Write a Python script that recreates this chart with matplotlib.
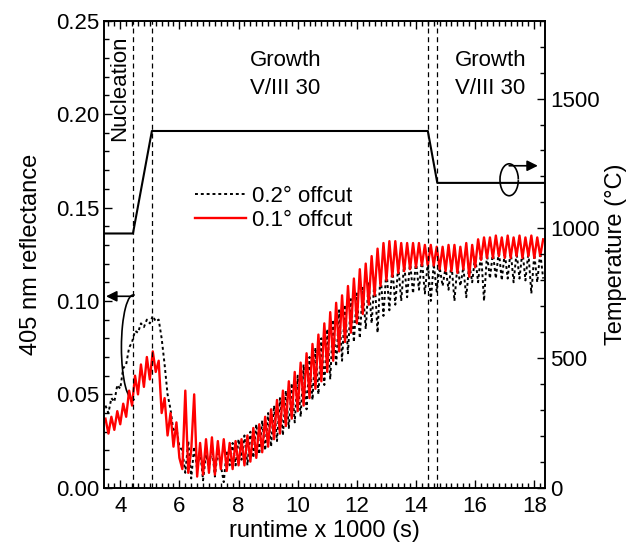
import numpy as np
import matplotlib
matplotlib.use("Agg")
import matplotlib.pyplot as plt
from matplotlib.patches import Arc
from matplotlib.ticker import MultipleLocator

plt.rcParams['font.family'] = ['Liberation Sans', 'DejaVu Sans']

# ---- data ----
t_start, t_step = 3.5, 0.1
refl_02 = [0.044, 0.040, 0.048, 0.046, 0.055, 0.053, 0.064, 0.066, 0.075, 0.078,
           0.084, 0.083, 0.088, 0.086, 0.090, 0.088, 0.092, 0.089, 0.090, 0.080,
           0.066, 0.050, 0.042, 0.030, 0.032, 0.022, 0.020, 0.008, 0.025, 0.005,
           0.022, 0.010, 0.020, 0.004, 0.018, 0.010, 0.022, 0.006, 0.020, 0.012,
           0.003, 0.020, 0.012, 0.024, 0.012, 0.026, 0.015, 0.028, 0.012, 0.030,
           0.016, 0.034, 0.018, 0.036, 0.020, 0.040, 0.022, 0.044, 0.025, 0.048,
           0.028, 0.052, 0.032, 0.056, 0.035, 0.060, 0.038, 0.066, 0.042, 0.070,
           0.047, 0.075, 0.050, 0.080, 0.055, 0.085, 0.058, 0.090, 0.065, 0.095,
           0.068, 0.098, 0.072, 0.101, 0.078, 0.104, 0.080, 0.107, 0.085, 0.110,
           0.088, 0.112, 0.083, 0.115, 0.092, 0.117, 0.095, 0.118, 0.098, 0.119,
           0.100, 0.120, 0.102, 0.121, 0.104, 0.121, 0.106, 0.122, 0.104, 0.121,
           0.100, 0.120, 0.105, 0.118, 0.108, 0.118, 0.106, 0.120, 0.100, 0.119,
           0.108, 0.118, 0.102, 0.120, 0.110, 0.124, 0.110, 0.126, 0.100, 0.125,
           0.112, 0.126, 0.112, 0.127, 0.111, 0.126, 0.112, 0.127, 0.110, 0.126,
           0.112, 0.127, 0.111, 0.126, 0.104, 0.125, 0.110, 0.126, 0.112]
refl_01 = [0.037, 0.029, 0.038, 0.031, 0.041, 0.034, 0.045, 0.038, 0.052, 0.044,
           0.060, 0.050, 0.066, 0.054, 0.070, 0.058, 0.073, 0.062, 0.068, 0.040,
           0.048, 0.028, 0.040, 0.022, 0.035, 0.016, 0.010, 0.052, 0.008, 0.020,
           0.050, 0.006, 0.024, 0.007, 0.026, 0.008, 0.027, 0.007, 0.025, 0.010,
           0.026, 0.009, 0.024, 0.010, 0.025, 0.012, 0.026, 0.012, 0.028, 0.014,
           0.032, 0.016, 0.034, 0.019, 0.038, 0.022, 0.042, 0.026, 0.047, 0.029,
           0.052, 0.033, 0.057, 0.037, 0.062, 0.041, 0.067, 0.044, 0.072, 0.048,
           0.077, 0.053, 0.082, 0.057, 0.088, 0.062, 0.094, 0.068, 0.099, 0.073,
           0.103, 0.078, 0.108, 0.083, 0.112, 0.088, 0.117, 0.093, 0.120, 0.098,
           0.124, 0.103, 0.128, 0.108, 0.131, 0.111, 0.132, 0.113, 0.132, 0.115,
           0.131, 0.116, 0.131, 0.117, 0.131, 0.118, 0.131, 0.119, 0.130, 0.119,
           0.130, 0.119, 0.129, 0.117, 0.129, 0.116, 0.130, 0.116, 0.130, 0.115,
           0.129, 0.117, 0.131, 0.113, 0.130, 0.118, 0.133, 0.122, 0.134, 0.123,
           0.134, 0.123, 0.135, 0.124, 0.134, 0.123, 0.135, 0.123, 0.134, 0.124,
           0.135, 0.123, 0.134, 0.124, 0.135, 0.123, 0.134, 0.124, 0.133]
temp_time = [3.45, 4.43, 5.07, 14.40, 14.72, 18.4]
temp_val = [980, 980, 1375, 1375, 1175, 1175]
step_lines = [4.43, 5.07, 14.40, 14.72]

t02 = t_start + t_step * np.arange(len(refl_02))
t01 = t_start + t_step * np.arange(len(refl_01))

fig = plt.figure(figsize=(6.34, 5.45), dpi=100)
ax = fig.add_axes([0.164, 0.105, 0.696, 0.857])
ax2 = ax.twinx()

ax.plot(t02, refl_02, color='black', ls=(0, (1.5, 1.5)), lw=1.4, label='0.2° offcut')
ax.plot(t01, refl_01, color='red', ls='-', lw=1.7, label='0.1° offcut')

for xv in step_lines:
    ax.axvline(xv, color='black', ls=(0, (4, 3)), lw=0.9)

ax2.plot(temp_time, temp_val, color='black', lw=1.5)

ax.set_xlim(3.45, 18.37)
ax.set_ylim(0, 0.25)
ax2.set_ylim(0, 1800)

ax.xaxis.set_major_locator(MultipleLocator(2))
ax.xaxis.set_minor_locator(MultipleLocator(0.2))
ax.yaxis.set_major_locator(MultipleLocator(0.05))
ax.yaxis.set_minor_locator(MultipleLocator(0.01))
ax2.yaxis.set_major_locator(MultipleLocator(500))
ax2.yaxis.set_minor_locator(MultipleLocator(100))
ax.yaxis.set_major_formatter(matplotlib.ticker.FormatStrFormatter('%.2f'))

ax.tick_params(axis='both', which='both', direction='in', labelsize=16)
ax.tick_params(axis='x', which='both', top=True)
ax.tick_params(axis='x', which='major', pad=6)
ax.tick_params(which='major', length=6, width=1)
ax.tick_params(which='minor', length=3.5, width=1)
ax2.tick_params(axis='y', which='both', direction='in', labelsize=16)
ax2.tick_params(which='major', length=6, width=1)
ax2.tick_params(which='minor', length=3.5, width=1)
for a in (ax, ax2):
    for s in a.spines.values():
        s.set_linewidth(1.2)

ax.set_xlabel('runtime x 1000 (s)', fontsize=17, labelpad=2)
ax.set_ylabel('405 nm reflectance', fontsize=17, labelpad=10)
ax2.set_ylabel('Temperature (°C)', fontsize=17, labelpad=4)

ax.text(3.97, 0.214, 'Nucleation', rotation=90, ha='center', va='center', fontsize=16)
ax.text(9.58, 0.221, 'Growth\nV/III 30', ha='center', va='center', fontsize=16,
        linespacing=1.45)
ax.text(16.51, 0.221, 'Growth\nV/III 30', ha='center', va='center', fontsize=16,
        linespacing=1.45)

leg = ax.legend(loc='upper left', bbox_to_anchor=(0.16, 0.69), frameon=False,
                fontsize=16, handlelength=2.3, handletextpad=0.3, labelspacing=0.15)

# left ellipse + arrow
ax.add_patch(Arc((4.44, 0.0752), 0.8, 0.056, theta1=30, theta2=330,
                 color='black', lw=1.2))
ax.annotate('', xy=(3.52, 0.1025), xytext=(4.44, 0.1025),
            arrowprops=dict(arrowstyle='-|>', color='black', lw=1.2,
                            mutation_scale=16, shrinkA=0, shrinkB=0))
# right ellipse + arrow
ax2.add_patch(Arc((17.15, 1187), 0.62, 123, theta1=75, theta2=285,
                  color='black', lw=1.2))
ax2.add_patch(Arc((17.15, 1187), 0.62, 123, theta1=-45, theta2=45,
                  color='black', lw=1.2))
ax2.annotate('', xy=(18.12, 1241), xytext=(17.15, 1241),
             arrowprops=dict(arrowstyle='-|>', color='black', lw=1.2,
                             mutation_scale=16, shrinkA=0, shrinkB=0))

fig.savefig('out.png', dpi=100)
